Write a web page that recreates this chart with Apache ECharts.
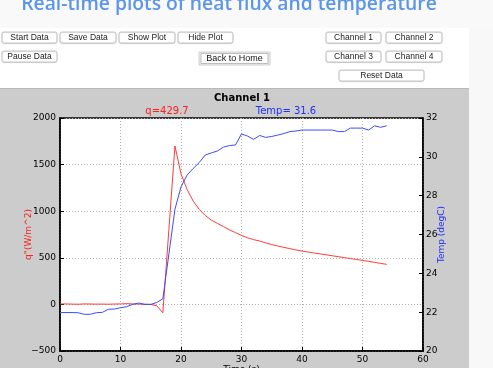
<!DOCTYPE html>
<html><head><meta charset="utf-8">
<script src="https://cdn.jsdelivr.net/npm/echarts@6/dist/echarts.min.js"></script>
<style>html,body{margin:0;padding:0;background:#ffffff;}#c{width:493px;height:368px;}</style>
</head><body><div id="c"></div>
<script>
var times = [0,1,2,3,4,5,6,7,8,9,10,11,12,13,14,15,16,17,18,19,20,21,22,23,24,25,26,27,28,29,30,31,32,33,34,35,36,37,38,39,40,41,42,43,44,45,46,47,48,49,50,51,52,53,54];
var heatFlux = [5,5,3,2,5,4,3,3,2,4,5,8,5,3,2,0,-15,-90,805,1700,1400,1234,1110,1020,955,905,870,835,800,770,740,715,695,680,660,642,626,612,598,585,572,562,552,542,532,522,512,502,492,482,472,462,451,440,429.7];
var temperature = [21.98,21.98,21.98,21.97,21.89,21.89,21.97,21.99,22.15,22.16,22.23,22.28,22.40,22.47,22.40,22.40,22.50,22.69,25.0,27.3,28.45,29.06,29.4,29.7,30.09,30.2,30.3,30.5,30.58,30.61,31.18,31.07,30.9,31.1,31.0,31.05,31.12,31.2,31.3,31.33,31.38,31.38,31.38,31.38,31.38,31.38,31.3,31.3,31.48,31.48,31.48,31.38,31.6,31.52,31.6];
var xTicks = [0,10,20,30,40,50,60];
var qTicks = [-500,0,500,1000,1500,2000];
var tTicks = [20,22,24,26,28,30,32];
var buttons = [
  ["Start Data",2,32,55,11],["Save Data",60,32,56,11],["Show Plot",119,32,56,11],["Hide Plot",178,32,55,11],
  ["Channel 1",326,32,55,11],["Channel 2",386,32,56,11],
  ["Pause Data",2,51,55,11],["Channel 3",326,51,55,11],["Channel 4",386,51,56,11],
  ["Reset Data",339,70,85,11]
];

var chart = echarts.init(document.getElementById('c'), null, {renderer:'canvas'});
var qData = times.map(function(t,i){return [t,heatFlux[i]];});
var tData = times.map(function(t,i){return [t,temperature[i]];});
var lastQ = heatFlux[heatFlux.length-1];
var lastT = temperature[temperature.length-1];

var graphics = [
  {type:'rect', z:-10, shape:{x:0,y:0,width:493,height:28}, style:{fill:'#f9f9f9'}},
  {type:'rect', z:-10, shape:{x:469,y:28,width:24,height:340}, style:{fill:'#f8f8f8'}},
  {type:'rect', z:-10, shape:{x:0,y:88,width:469,height:280}, style:{fill:'#cccccc'}},
  {type:'rect', z:-9, shape:{x:0,y:88,width:469,height:1}, style:{fill:'#b8b8b8'}},
  {type:'text', x:229, y:5, style:{text:'Real-time plots of heat flux and temperature', fill:'#5b96ea', font:'600 19.3px "Open Sans", sans-serif', align:'center', verticalAlign:'middle'}},
  {type:'text', x:242, y:98, style:{text:'Channel 1', fill:'#000', font:'bold 10px "DejaVu Sans"', align:'center', verticalAlign:'middle'}},
  {type:'text', x:167, y:111, style:{text:'q=' + lastQ.toFixed(1), fill:'#ff2020', font:'10px "DejaVu Sans"', align:'center', verticalAlign:'middle'}},
  {type:'text', x:286, y:111, style:{text:'Temp= ' + lastT.toFixed(1), fill:'#2030ff', font:'10px "DejaVu Sans"', align:'center', verticalAlign:'middle'}},
  {type:'text', x:241.5, y:365, style:{text:'Time (s)', fill:'#000', font:'9px "DejaVu Sans"', align:'center', verticalAlign:'top'}},
  {type:'rect', shape:{x:199,y:52,width:71,height:13}, style:{fill:'#ededed', stroke:'#d0d0d0', lineWidth:1}},
  {type:'rect', shape:{x:201,y:53.5,width:67,height:10}, style:{fill:'#ffffff', stroke:'#bdbdbd', lineWidth:1}},
  {type:'text', x:234.5, y:58.5, style:{text:'Back to Home', fill:'#111', font:'9px "Liberation Sans"', align:'center', verticalAlign:'middle'}}
];
buttons.forEach(function(b){
  graphics.push({type:'rect', shape:{x:b[1],y:b[2],width:b[3],height:b[4],r:2}, style:{fill:'#ffffff', stroke:'#c8c8c8', lineWidth:1, shadowBlur:1, shadowColor:'rgba(0,0,0,0.15)', shadowOffsetY:0.5}});
  graphics.push({type:'text', x:b[1]+b[3]/2, y:b[2]+b[4]/2, style:{text:b[0], fill:'#222', font:'8.5px "Liberation Sans"', align:'center', verticalAlign:'middle'}});
});

chart.setOption({
  animation:false,
  backgroundColor:'#ffffff',
  graphic: graphics,
  grid:{left:60, top:118, width:363, height:233, outerBoundsMode:'none', containLabel:false, show:true, backgroundColor:'#ffffff', borderColor:'#000', borderWidth:1.5},
  xAxis:{type:'value', min:xTicks[0], max:xTicks[xTicks.length-1], interval:10,
    axisLine:{show:true, onZero:false, lineStyle:{color:'#000', width:1.5}},
    axisTick:{show:true, inside:true, length:4, lineStyle:{color:'#000'}},
    axisLabel:{fontFamily:'DejaVu Sans', fontSize:9, color:'#000', margin:4},
    splitLine:{show:true, lineStyle:{color:'#b0b0b0', type:[1,2], width:1}}},
  yAxis:[
    {type:'value', min:qTicks[0], max:qTicks[qTicks.length-1], interval:500, position:'left',
      name:'q"(W/m^2)', nameLocation:'middle', nameGap:27, nameMoveOverlap:false, nameRotate:90, nameTextStyle:{fontFamily:'DejaVu Sans', fontSize:9, color:'#ff2020'},
      axisLine:{show:true, lineStyle:{color:'#000', width:1.5}},
      axisTick:{show:true, inside:true, length:4, lineStyle:{color:'#000'}},
      axisLabel:{fontFamily:'DejaVu Sans', fontSize:9, color:'#000', margin:4, formatter:function(v){return v<0?'\u2212'+Math.abs(v):String(v);}},
      splitLine:{show:true, lineStyle:{color:'#b0b0b0', type:[1,2], width:1}}},
    {type:'value', min:tTicks[0], max:tTicks[tTicks.length-1], interval:2, position:'right',
      name:'Temp (degC)', nameLocation:'middle', nameGap:14, nameMoveOverlap:false, nameRotate:90, nameTextStyle:{fontFamily:'DejaVu Sans', fontSize:9, color:'#2030ff'},
      axisLine:{show:true, lineStyle:{color:'#000', width:1.5}},
      axisTick:{show:true, inside:true, length:4, lineStyle:{color:'#000'}},
      axisLabel:{fontFamily:'DejaVu Sans', fontSize:9, color:'#000', margin:3},
      splitLine:{show:false}}
  ],
  series:[
    {type:'line', data:qData, yAxisIndex:0, showSymbol:false, lineStyle:{color:'#ff3b3b', width:1}, itemStyle:{color:'#ff3b3b'}, z:2},
    {type:'line', data:tData, yAxisIndex:1, showSymbol:false, lineStyle:{color:'#3d4bff', width:1}, itemStyle:{color:'#3d4bff'}, z:3}
  ]
});
</script></body></html>
